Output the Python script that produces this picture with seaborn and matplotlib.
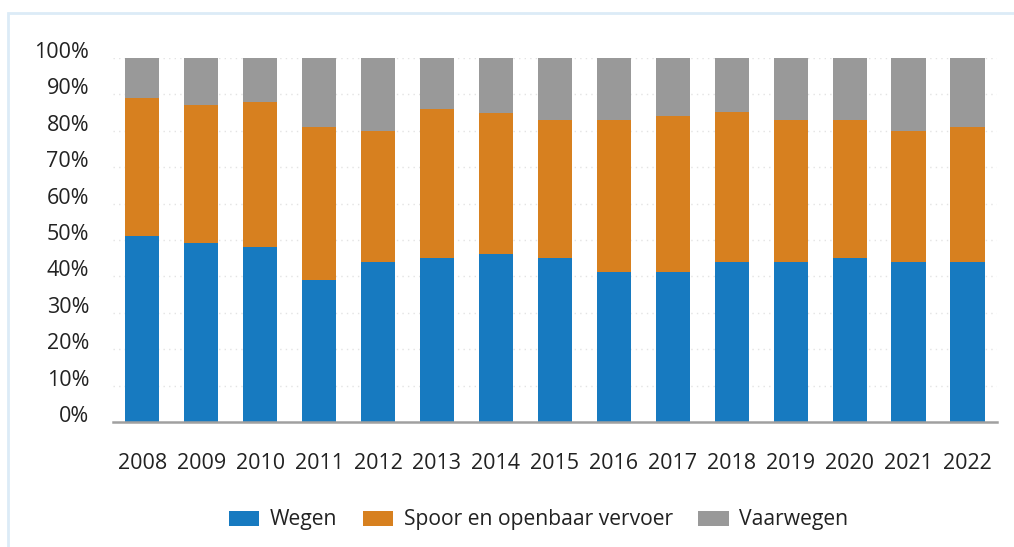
import matplotlib
matplotlib.use("Agg")
import matplotlib.pyplot as plt
import matplotlib.transforms as mtransforms
from matplotlib.patches import Patch, Rectangle
import seaborn as sns
import pandas as pd
import numpy as np

years = ["2008", "2009", "2010", "2011", "2012", "2013", "2014", "2015",
         "2016", "2017", "2018", "2019", "2020", "2021", "2022"]
wegen = [51.2, 49.2, 48.1, 39.0, 44.0, 45.1, 46.2, 45.1, 41.2, 41.2, 44.0, 44.0, 45.1, 44.0, 44.0]
spoor = [37.9, 37.9, 39.9, 42.1, 35.9, 41.0, 38.7, 38.0, 41.9, 42.9, 41.2, 39.1, 38.0, 35.9, 37.0]
vaarwegen = [10.9, 12.9, 12.0, 18.9, 20.1, 13.9, 15.1, 16.9, 16.9, 15.9, 14.8, 16.9, 16.9, 20.1, 19.0]
series_names = ["Wegen", "Spoor en openbaar vervoer", "Vaarwegen"]
colors = ["#177ac0", "#d7801f", "#999999"]
y_ticks = [0, 10, 20, 30, 40, 50, 60, 70, 80, 90, 100]

df = pd.DataFrame({"jaar": years, "Wegen": wegen, "Spoor": spoor, "Vaarwegen": vaarwegen})
df["c1"] = df["Wegen"]
df["c2"] = df["c1"] + df["Spoor"]
df["c3"] = df["c2"] + df["Vaarwegen"]

sns.set_theme(style="white")
plt.rcParams["font.family"] = ["Open Sans", "DejaVu Sans"]
plt.rcParams["text.color"] = "#222222"

W, H = 1014, 547
fig = plt.figure(figsize=(W / 100, H / 100), dpi=100)
ax = fig.add_axes([112.7 / W, 1 - 422 / H, (997 - 112.7) / W, (422 - 58) / H])

bw = 0.58
sns.barplot(data=df, x="jaar", y="c3", color=colors[2], width=bw, saturation=1, ax=ax, zorder=2)
sns.barplot(data=df, x="jaar", y="c2", color=colors[1], width=bw, saturation=1, ax=ax, zorder=3)
sns.barplot(data=df, x="jaar", y="c1", color=colors[0], width=bw, saturation=1, ax=ax, zorder=4)
for p in ax.patches:
    p.set_edgecolor("none")
    p.set_linewidth(0)

ax.set_xlim(-0.5, len(years) - 0.5)
ax.set_ylim(0, 100)
ax.set_yticks(y_ticks)
ax.set_yticklabels([f"{v}%" for v in y_ticks])
ax.set_xlabel("")
ax.set_ylabel("")

for v in y_ticks[1:]:
    ax.axhline(v, color="#e3e3e3", lw=1, ls=(0, (1, 3)), zorder=1)

for s in ["top", "right", "left"]:
    ax.spines[s].set_visible(False)
ax.spines["bottom"].set_color("#a0a0a0")
ax.spines["bottom"].set_linewidth(1.8)
ax.spines["bottom"].set_zorder(5)

ax.tick_params(axis="both", length=0, labelsize=15.5, colors="#222222")
ax.tick_params(axis="y", pad=17)
ax.tick_params(axis="x", pad=22)
offset = mtransforms.ScaledTranslation(0, 8 / 100, fig.dpi_scale_trans)
for lab in ax.get_yticklabels():
    lab.set_transform(lab.get_transform() + offset)

handles = [Patch(facecolor=c, edgecolor="none", label=n) for c, n in zip(colors, series_names)]
fig.legend(handles=handles, loc="center", bbox_to_anchor=(538.5 / W, 1 - 520 / H),
           ncol=3, frameon=False, fontsize=15.2, handlelength=1.45, handleheight=0.73,
           handletextpad=0.5, columnspacing=1.2, borderpad=0)

fig.patches.append(Rectangle((8.3 / W, -0.1), 1.2, 1.1 - 12.5 / H, transform=fig.transFigure,
                             fill=False, edgecolor="#dcebf7", linewidth=2, zorder=0))

fig.savefig("out.png", dpi=100)
